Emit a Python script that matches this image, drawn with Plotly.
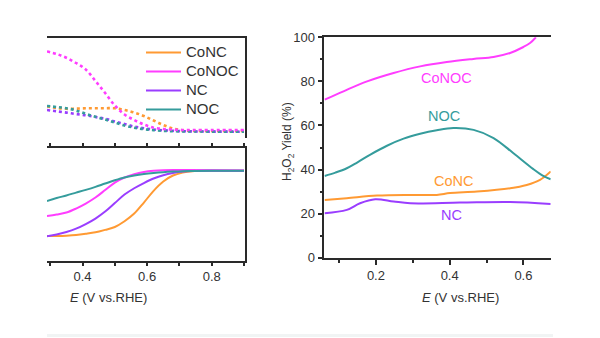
import plotly.graph_objects as go

W, H = 600, 338
def px_x(p): return p / W
def px_y(p): return 1 - p / H

names = ["CoNC", "CoNOC", "NC", "NOC"]
colors = {"CoNC": "#FF9A33", "CoNOC": "#FF3DFF", "NC": "#9A3DFF", "NOC": "#359C9C"}

# Left panels: potential grid (V vs RHE)
E_left = [0.29, 0.32, 0.35, 0.38, 0.41, 0.44, 0.47, 0.50, 0.53, 0.56, 0.59,
          0.62, 0.65, 0.68, 0.71, 0.74, 0.80, 0.90]

# Top-left: ring current (arbitrary units)
ring_CoNC = [0.315, 0.30, 0.292, 0.294, 0.297, 0.298, 0.298, 0.297, 0.28, 0.255, 0.22,
             0.175, 0.13, 0.095, 0.077, 0.072, 0.07, 0.07]
ring_CoNOC = [0.865, 0.84, 0.802, 0.75, 0.685, 0.57, 0.45, 0.325, 0.235, 0.18, 0.135,
              0.103, 0.09, 0.084, 0.08, 0.08, 0.08, 0.08]
ring_NC = [0.28, 0.267, 0.254, 0.24, 0.227, 0.21, 0.192, 0.165, 0.14, 0.114, 0.097,
           0.085, 0.077, 0.072, 0.068, 0.066, 0.064, 0.063]
ring_NOC = [0.32, 0.31, 0.298, 0.275, 0.242, 0.212, 0.185, 0.155, 0.125, 0.103, 0.088,
            0.078, 0.072, 0.068, 0.066, 0.065, 0.064, 0.063]

# Bottom-left: disk current (arbitrary units)
disk_CoNC = [-4.081, -4.075, -4.056, -4.019, -3.944, -3.85, -3.694, -3.513, -3.156, -2.675,
             -1.988, -1.256, -0.675, -0.3, -0.119, -0.031, -0.006, 0.0]
disk_CoNOC = [-2.831, -2.738, -2.613, -2.363, -2.05, -1.675, -1.206, -0.738, -0.425, -0.219,
              -0.081, -0.006, 0.031, 0.044, 0.044, 0.044, 0.031, 0.019]
disk_NC = [-4.094, -3.988, -3.831, -3.619, -3.331, -2.988, -2.55, -2.019, -1.488, -1.094,
           -0.769, -0.488, -0.281, -0.144, -0.056, -0.019, 0.0, 0.0]
disk_NOC = [-1.894, -1.706, -1.544, -1.369, -1.194, -1.006, -0.8, -0.6, -0.425, -0.3,
            -0.206, -0.138, -0.088, -0.056, -0.031, -0.019, -0.006, 0.0]

# Right panel: H2O2 yield (%)
E_CoNOC = [0.061, 0.112, 0.176, 0.248, 0.32, 0.392, 0.464, 0.519, 0.564, 0.60, 0.618, 0.634]
Y_CoNOC = [71.7, 75.5, 80.0, 83.8, 86.8, 88.8, 90.2, 91.1, 92.9, 95.6, 97.4, 100.0]
E_NOC = [0.061, 0.09, 0.121, 0.15, 0.185, 0.23, 0.275, 0.32, 0.365, 0.41, 0.465, 0.519,
         0.573, 0.627, 0.655, 0.674]
Y_NOC = [37.1, 38.6, 40.6, 43.3, 46.8, 50.8, 54.0, 56.2, 57.8, 58.8, 58.0, 54.3,
         47.4, 40.2, 37.0, 35.6]
E_CoNC = [0.061, 0.121, 0.203, 0.293, 0.365, 0.401, 0.474, 0.564, 0.609, 0.645, 0.674]
Y_CoNC = [26.2, 27.0, 28.2, 28.5, 28.5, 29.3, 30.0, 31.5, 33.0, 35.3, 39.1]
E_NC = [0.061, 0.121, 0.157, 0.198, 0.248, 0.293, 0.428, 0.564, 0.674]
Y_NC = [20.2, 21.7, 24.7, 26.5, 25.5, 24.7, 25.0, 25.3, 24.4]

ring = {"CoNC": ring_CoNC, "CoNOC": ring_CoNOC, "NC": ring_NC, "NOC": ring_NOC}
disk = {"CoNC": disk_CoNC, "CoNOC": disk_CoNOC, "NC": disk_NC, "NOC": disk_NOC}
yield_E = {"CoNC": E_CoNC, "CoNOC": E_CoNOC, "NC": E_NC, "NOC": E_NOC}
yield_Y = {"CoNC": Y_CoNC, "CoNOC": Y_CoNOC, "NC": Y_NC, "NOC": Y_NOC}

left_major = [0.4, 0.6, 0.8]
left_minor = [0.3, 0.5, 0.7, 0.9]
right_x_major = [0.2, 0.4, 0.6]
right_x_minor = [0.1, 0.3, 0.5]
right_y_major = [0, 20, 40, 60, 80, 100]
right_y_minor = [10, 30, 50, 70, 90]

FONT = "Liberation Sans, Arial, sans-serif"
TXT = "#333333"
AX = "#2a2a2a"

fig = go.Figure()

for n in ["CoNC", "NC", "NOC", "CoNOC"]:
    fig.add_trace(go.Scatter(x=E_left, y=ring[n], mode="lines", xaxis="x", yaxis="y",
                             line=dict(color=colors[n], width=2.6, dash="dot", shape="spline"),
                             showlegend=False, hoverinfo="skip"))
for n in names:
    fig.add_trace(go.Scatter(x=E_left, y=disk[n], mode="lines", xaxis="x2", yaxis="y2",
                             name='<span style="font-size:15px">%s</span>' % n,
                             line=dict(color=colors[n], width=2, shape="spline"),
                             showlegend=True))
for n in names:
    fig.add_trace(go.Scatter(x=yield_E[n], y=yield_Y[n], mode="lines", xaxis="x4", yaxis="y4",
                             line=dict(color=colors[n], width=2, shape="spline"),
                             showlegend=False, hoverinfo="skip"))

xl_dom = [px_x(47), px_x(245)]
xr_dom = [px_x(324.3), px_x(550.7)]
left_range = [0.29, 0.903]

common = dict(showgrid=False, zeroline=False, automargin=False)

fig.update_layout(
    width=W, height=H, margin=dict(l=0, r=0, t=0, b=0, autoexpand=False),
    paper_bgcolor="white", plot_bgcolor="white",
    font=dict(family=FONT, size=13, color=TXT),
    showlegend=True,
    legend=dict(x=px_x(141), y=px_y(38), xanchor="left", yanchor="top",
                bgcolor="rgba(0,0,0,0)", font=dict(size=12.3, color=TXT),
                tracegroupgap=0, itemwidth=35),
    xaxis=dict(domain=xl_dom, anchor="y", range=left_range, side="top",
               showline=True, linecolor=AX, linewidth=1.6, ticks="", showticklabels=False,
               **common),
    yaxis=dict(domain=[px_y(138), px_y(38)], anchor="x", range=[0, 1], side="right",
               showline=True, linecolor=AX, linewidth=1.6, ticks="", showticklabels=False,
               **common),
    xaxis2=dict(domain=xl_dom, anchor="y2", range=left_range,
                showline=True, mirror="ticks", linecolor=AX, linewidth=1.6,
                ticks="outside", ticklen=3, tickwidth=1.6, tickcolor=AX,
                tickvals=left_major, ticktext=["0.4", "0.6", "0.8"],
                minor=dict(tickvals=left_minor, ticks="outside", ticklen=3,
                           tickwidth=1.6, tickcolor=AX),
                tickfont=dict(size=13, color=TXT), **common),
    xaxis3=dict(domain=xl_dom, anchor="y2", overlaying="x2", range=left_range,
                showline=False, mirror="ticks", ticks="inside", ticklen=3, tickwidth=1.6,
                tickcolor=AX, tickvals=left_major, showticklabels=False,
                minor=dict(tickvals=left_minor, ticks="inside", ticklen=3,
                           tickwidth=1.6, tickcolor=AX),
                **common),
    yaxis2=dict(domain=[px_y(261), px_y(148)], anchor="x2", range=[-5.64, 1.42], side="right",
                showline=True, linecolor=AX, linewidth=1.6, ticks="", showticklabels=False,
                **common),
    xaxis4=dict(domain=xr_dom, anchor="y4", range=[0.06, 0.674],
                showline=True, mirror=True, linecolor=AX, linewidth=1.6,
                ticks="outside", ticklen=5, tickwidth=1.6, tickcolor=AX,
                tickvals=right_x_major, ticktext=["0.2", "0.4", "0.6"],
                minor=dict(tickvals=right_x_minor, ticks="outside", ticklen=3,
                           tickwidth=1.6, tickcolor=AX),
                tickfont=dict(size=13, color=TXT), **common),
    yaxis4=dict(domain=[px_y(257.7), px_y(37.3)], anchor="x4", range=[0, 100],
                showline=True, linecolor=AX, linewidth=1.6,
                ticks="outside", ticklen=5, tickwidth=1.6, tickcolor=AX,
                tickvals=right_y_major,
                minor=dict(tickvals=right_y_minor, ticks="outside", ticklen=3,
                           tickwidth=1.6, tickcolor=AX),
                tickfont=dict(size=13, color=TXT), **common),
)

annotations = [
    dict(text="<i>E</i> (V vs.RHE)", x=px_x(108), y=px_y(297), xref="paper", yref="paper",
         showarrow=False, font=dict(size=13, color=TXT), xanchor="center", yanchor="middle"),
    dict(text="<i>E</i> (V vs.RHE)", x=px_x(460), y=px_y(297), xref="paper", yref="paper",
         showarrow=False, font=dict(size=13, color=TXT), xanchor="center", yanchor="middle"),
    dict(text="H<sub>2</sub>O<sub>2</sub> Yield (%)", x=px_x(288), y=px_y(142),
         xref="paper", yref="paper", showarrow=False, textangle=-90,
         font=dict(size=12, color=TXT), xanchor="center", yanchor="middle"),
]
label_pos = {"CoNOC": (0.392, 81.5), "NOC": (0.385, 64.1), "CoNC": (0.41, 35.0), "NC": (0.406, 19.4)}
for n, (lx, ly) in label_pos.items():
    annotations.append(dict(text=n, x=lx, y=ly, xref="x4", yref="y4", showarrow=False,
                            font=dict(size=14.5, color=colors[n]),
                            xanchor="center", yanchor="middle"))
fig.update_layout(annotations=annotations)

fig.add_shape(type="rect", xref="paper", yref="paper",
              x0=px_x(47), x1=px_x(553), y0=px_y(337), y1=px_y(334),
              fillcolor="#f1f4f4", line=dict(width=0), layer="below")

fig.write_html("out.html")
